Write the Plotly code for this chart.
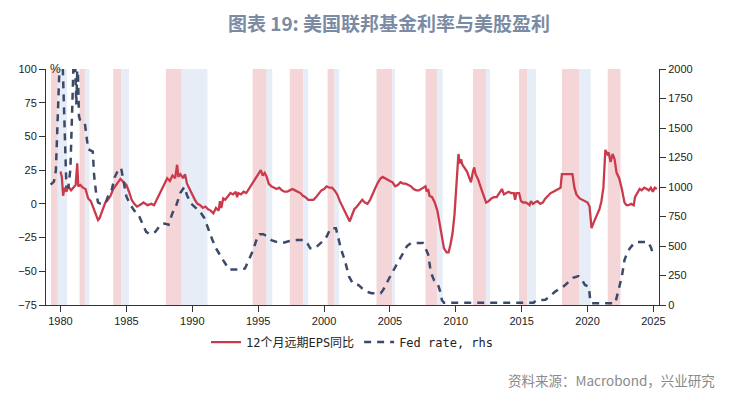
import plotly.graph_objects as go

# ---------------- data ----------------
eps_t = [1980.0, 1980.1, 1980.2, 1980.3, 1980.45, 1980.6, 1980.8, 1981.0, 1981.15, 1981.27, 1981.35, 1981.5,
         1981.7, 1981.9, 1982.1, 1982.3, 1982.5, 1982.65, 1982.85, 1982.95, 1983.15, 1983.4, 1983.6, 1983.8,
         1984.0, 1984.2, 1984.4, 1984.55, 1984.8, 1985.0, 1985.2, 1985.4, 1985.6, 1985.8, 1986.0, 1986.3,
         1986.6, 1986.9, 1987.1, 1987.3, 1987.5, 1987.7, 1987.9, 1988.1, 1988.3, 1988.5, 1988.7, 1988.85,
         1988.95, 1989.1, 1989.3, 1989.45, 1989.6, 1989.75, 1990.0, 1990.2, 1990.4, 1990.6, 1990.8, 1991.0,
         1991.2, 1991.4, 1991.6, 1991.8, 1992.0, 1992.1, 1992.2, 1992.35, 1992.5, 1992.7, 1992.9, 1993.1,
         1993.3, 1993.4, 1993.5, 1993.7, 1993.9, 1994.1, 1994.3, 1994.5, 1994.7, 1994.9, 1995.1, 1995.2,
         1995.35, 1995.5, 1995.65, 1995.8, 1996.0, 1996.2, 1996.4, 1996.6, 1996.8, 1997.0, 1997.2, 1997.4,
         1997.6, 1997.8, 1998.0, 1998.2, 1998.4, 1998.6, 1998.8, 1999.0, 1999.2, 1999.4, 1999.6, 1999.8,
         2000.0, 2000.2, 2000.4, 2000.6, 2000.8, 2001.0, 2001.2, 2001.4, 2001.6, 2001.8, 2001.95, 2002.1,
         2002.3, 2002.5, 2002.7, 2002.9, 2003.1, 2003.3, 2003.5, 2003.7, 2003.9, 2004.1, 2004.3, 2004.45,
         2004.6, 2004.8, 2005.0, 2005.2, 2005.4, 2005.6, 2005.8, 2006.0, 2006.2, 2006.4, 2006.6, 2006.8,
         2007.0, 2007.2, 2007.4, 2007.6, 2007.7, 2007.8, 2007.9, 2008.0, 2008.2, 2008.4, 2008.6, 2008.8,
         2008.95, 2009.1, 2009.3, 2009.45, 2009.6, 2009.75, 2009.9, 2010.05, 2010.2, 2010.3, 2010.4, 2010.5,
         2010.7, 2010.85, 2011.0, 2011.15, 2011.3, 2011.4, 2011.5, 2011.7, 2011.9, 2012.1, 2012.3, 2012.5,
         2012.7, 2012.9, 2013.1, 2013.3, 2013.5, 2013.65, 2013.8, 2014.0, 2014.2, 2014.4, 2014.5, 2014.6,
         2014.8, 2014.95, 2015.1, 2015.3, 2015.5, 2015.6, 2015.7, 2015.85, 2016.0, 2016.2, 2016.4, 2016.6,
         2016.8, 2017.0, 2017.2, 2017.4, 2017.6, 2017.8, 2017.95, 2018.05, 2018.3, 2018.6, 2018.85, 2019.0,
         2019.15, 2019.4, 2019.6, 2019.8, 2020.0, 2020.15, 2020.3, 2020.5, 2020.7, 2020.9, 2021.05, 2021.2,
         2021.35, 2021.5, 2021.6, 2021.75, 2021.9, 2022.05, 2022.2, 2022.4, 2022.6, 2022.8, 2022.95, 2023.1,
         2023.3, 2023.5, 2023.6, 2023.8, 2023.95, 2024.1, 2024.3, 2024.5, 2024.65, 2024.8, 2024.95, 2025.1,
         2025.25]
eps_v = [24, 20, 6, 12, 9, 13, 10, 12, 14, 30, 13, 14,
         12, 11, 4, 2, -3, -8, -12, -11, -6, 1, 3, 6,
         11, 14, 17, 18.5, 16, 14, 9, 3, 0, -2, -1, 1,
         -1, 0, -1, 3, 6, 10, 14, 19, 17, 21, 19, 29,
         20, 22, 19, 22, 15, 12, 6, 3, 0, -1, -3, -2,
         -4, -5, -7, -3, -5, 2, -3, 4, 3, 6, 8, 7,
         9, 5, 8, 7, 9, 8, 11, 14, 17, 20, 23, 25,
         21, 23, 20, 15, 13, 12, 11, 12, 10, 9, 9, 10,
         11, 10, 9, 8, 6, 5, 3, 3, 3, 5, 8, 10,
         11, 13, 12, 12, 10, 7, 2, -2, -6, -10, -13, -9,
         -4, -2, 1, 3, 1, 0, 3, 8, 12, 16, 19, 20,
         19, 18, 17, 16, 13, 14, 16, 15, 15, 14, 13, 11,
         10, 10, 11, 12, 13, 9, 11, 6, 5, 1, -5, -16,
         -25, -33, -36, -36, -30, -22, -8, 15, 37, 30, 33, 29,
         26, 24, 20, 16, 24, 27, 22, 18, 12, 7, 1, 2,
         4, 5, 5, 8, 11, 7, 8, 9, 8, 8, 3, 8,
         8, 2, 1, 1, 0, -1, 2, 0, 1, 2, 0, 1,
         4, 6, 8, 9, 10, 11, 12, 22, 22, 22, 22, 12,
         7, 4, 3, 2, 1, -2, -18, -13, -9, -4, 2, 12,
         40, 37, 38, 31, 37, 33, 23, 19, 11, 1, -1, -1,
         0, -1, 5, 9, 11, 10, 12, 11, 10, 12, 9, 12,
         11]

fed_t = [1979.25, 1979.5, 1979.65, 1979.8, 1979.95, 1980.15, 1980.3, 1980.45, 1980.6, 1980.75, 1980.9, 1981.0,
         1981.1, 1981.2, 1981.3, 1981.4, 1981.5, 1981.85, 1981.95, 1982.1, 1982.45, 1982.55, 1982.7, 1982.85,
         1983.0, 1983.4, 1983.6, 1983.9, 1984.1, 1984.4, 1984.6, 1984.8, 1985.0, 1985.3, 1985.6, 1985.9,
         1986.2, 1986.5, 1986.8, 1987.2, 1987.6, 1987.9, 1988.2, 1988.5, 1988.8, 1989.1, 1989.4, 1989.6,
         1989.9, 1990.2, 1990.6, 1990.9, 1991.2, 1991.5, 1991.8, 1992.1, 1992.4, 1992.8, 1993.2, 1993.7,
         1994.0, 1994.2, 1994.4, 1994.6, 1994.9, 1995.1, 1995.4, 1995.7, 1996.0, 1996.5, 1997.0, 1997.3,
         1997.9, 1998.5, 1998.75, 1998.95, 1999.3, 1999.6, 1999.9, 2000.2, 2000.5, 2000.9, 2001.05, 2001.3,
         2001.6, 2001.9, 2002.2, 2002.6, 2002.9, 2003.3, 2003.6, 2004.3, 2004.5, 2004.8, 2005.1, 2005.4,
         2005.7, 2006.0, 2006.3, 2006.6, 2007.0, 2007.5, 2007.7, 2007.9, 2008.05, 2008.2, 2008.35, 2008.6,
         2008.8, 2008.95, 2009.1, 2015.9, 2016.1, 2016.8, 2017.2, 2017.5, 2017.9, 2018.2, 2018.5, 2018.9,
         2019.3, 2019.55, 2019.8, 2020.1, 2020.2, 2020.3, 2022.1, 2022.25, 2022.45, 2022.6, 2022.8, 2023.0,
         2023.2, 2023.5, 2023.7, 2024.6, 2024.8, 2024.95, 2025.2]
fed_v = [1020, 1045, 1140, 1550, 2100, 2100, 1500, 1000, 1000, 1150, 1700, 2100,
         2100, 1700, 2100, 1600, 1560, 1540, 1450, 1320, 1300, 1100, 950, 870,
         860, 860, 920, 980, 1080, 1150, 1160, 1050, 920, 850, 800, 770,
         700, 620, 600, 620, 680, 690, 680, 780, 850, 950, 1000, 930,
         860, 830, 790, 740, 640, 560, 480, 430, 370, 300, 300, 300,
         310, 360, 420, 460, 560, 600, 600, 580, 550, 530, 530, 540,
         550, 550, 520, 480, 480, 510, 540, 580, 650, 650, 580, 470,
         370, 240, 180, 170, 140, 110, 100, 100, 130, 200, 260, 320,
         380, 440, 500, 525, 525, 525, 480, 430, 320, 250, 210, 190,
         120, 40, 20, 20, 40, 45, 80, 110, 140, 160, 190, 230,
         245, 220, 170, 155, 40, 15, 15, 80, 160, 240, 380, 440,
         480, 520, 533, 533, 490, 440, 435]

pink_start = [1979.28, 1981.45, 1984.0, 1988.0, 1994.58, 1997.4, 2000.27, 2003.98, 2007.7, 2011.3, 2014.8, 2018.05, 2021.53]
pink_end   = [1979.8, 1981.85, 1984.6, 1989.2, 1995.64, 1998.42, 2000.8, 2005.19, 2008.6, 2012.3, 2015.44, 2019.36, 2022.5]
blue_start = [1979.8, 1981.85, 1984.6, 1989.2, 1995.64, 1998.42, 2000.8, 2005.19, 2008.6, 2012.3, 2015.44, 2019.36]
blue_end   = [1980.5, 1982.2, 1985.2, 1991.15, 1996.07, 1998.8, 2001.15, 2005.39, 2009.0, 2012.6, 2016.08, 2020.24]

year_ticks = [1980, 1985, 1990, 1995, 2000, 2005, 2010, 2015, 2020, 2025]
left_ticks = [-75, -50, -25, 0, 25, 50, 75, 100]
right_ticks = [0, 250, 500, 750, 1000, 1250, 1500, 1750, 2000]

# ---------------- figure ----------------
RED = "#cb3a4c"
NAVY = "#3c4a69"
PINK = "#f4d6d9"
BLUE = "#e6edf6"

fig = go.Figure()

shapes = []
for a, b in zip(pink_start, pink_end):
    shapes.append(dict(type="rect", xref="x", yref="paper", x0=a, x1=b, y0=0, y1=1,
                       fillcolor=PINK, line_width=0, layer="below"))
for a, b in zip(blue_start, blue_end):
    shapes.append(dict(type="rect", xref="x", yref="paper", x0=a, x1=b, y0=0, y1=1,
                       fillcolor=BLUE, line_width=0, layer="below"))

fig.add_trace(go.Scatter(x=eps_t, y=eps_v, mode="lines", name="12个月远期EPS同比",
                         line=dict(color=RED, width=2.3), yaxis="y"))
fig.add_trace(go.Scatter(x=fed_t, y=fed_v, mode="lines", name="Fed rate, rhs",
                         line=dict(color=NAVY, width=2.5, dash="7px,6px"), yaxis="y2"))

tickfont = dict(family="Liberation Sans, Arial, sans-serif", size=11, color="#222")

fig.update_layout(
    width=731, height=398,
    margin=dict(l=46, r=72, t=69, b=93),
    paper_bgcolor="white", plot_bgcolor="white",
    shapes=shapes,
    title=dict(text="<b>图表 19: 美国联邦基金利率与美股盈利</b>",
               x=389 / 731, xanchor="center", y=1 - 24 / 398, yanchor="middle",
               font=dict(family="Noto Sans CJK SC, sans-serif", size=19, color="#7b8ba4")),
    xaxis=dict(range=[1978.9, 2025.42], tickvals=year_ticks, ticktext=[str(v) for v in year_ticks],
               showgrid=False, zeroline=False, showline=True, linecolor="#333", linewidth=1,
               ticks="outside", ticklen=6, tickcolor="#333", tickfont=tickfont),
    yaxis=dict(range=[-75, 100], tickvals=left_ticks, showgrid=False, zeroline=False,
               showline=True, linecolor="#333", linewidth=1, ticks="outside", ticklen=6,
               tickcolor="#333", tickfont=tickfont),
    yaxis2=dict(range=[0, 2000], tickvals=right_ticks, overlaying="y", side="right",
                showgrid=False, zeroline=False, showline=True, linecolor="#333", linewidth=1,
                ticks="outside", ticklen=6, tickcolor="#333", tickfont=tickfont),
    legend=dict(orientation="h", x=0.5, xanchor="center", y=-0.157, yanchor="middle",
                font=dict(family="DejaVu Sans Mono, Noto Sans CJK SC, monospace", size=12, color="#222"),
                itemwidth=30, bgcolor="rgba(0,0,0,0)"),
    showlegend=True,
    annotations=[
        dict(text="%", xref="paper", yref="paper", x=9 / 613, y=1, xanchor="center", yanchor="middle",
             showarrow=False, font=dict(family="Liberation Sans, Arial, sans-serif", size=12, color="#222")),
        dict(text="资料来源：Macrobond，兴业研究", xref="paper", yref="paper",
             x=(717 - 46) / 613, y=-(380 - 305) / 236, xanchor="right", yanchor="middle",
             showarrow=False, font=dict(family="Noto Sans CJK SC, sans-serif", size=13.5, color="#8a8a8a")),
    ],
)

fig.write_html("out.html", config={"displayModeBar": False},
               post_script="document.body.style.margin='0';document.body.style.padding='0';")
